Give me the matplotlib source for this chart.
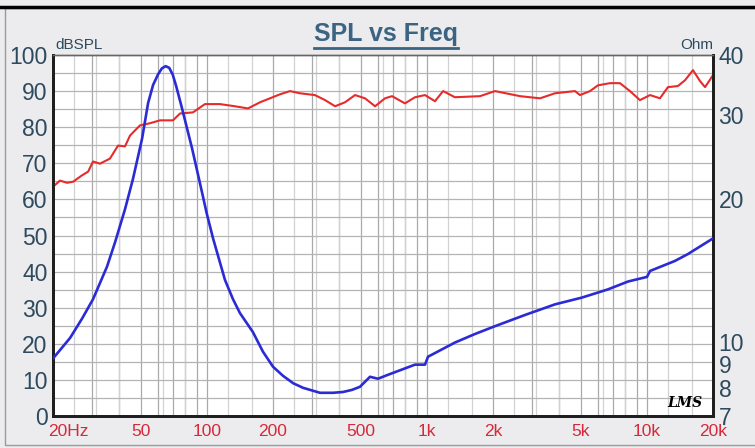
import numpy as np
import matplotlib.pyplot as plt
from matplotlib.lines import Line2D
from matplotlib.patches import Rectangle
from matplotlib.ticker import NullLocator, NullFormatter
import matplotlib.transforms as mtransforms

plt.rcParams['font.family'] = ['Liberation Sans', 'DejaVu Sans']

# SPL (dB)
spl_freq = [20, 21.5, 23.2, 24.7, 27.0, 28.9, 30.4, 32.7, 36.3, 39.5, 42.5, 44.8, 49.7,
            55.2, 61.3, 70.2, 75.6, 86.5, 98.1, 114.8, 134.3, 153.9, 174.6, 193.7, 215,
            239, 265, 310, 345, 383, 425, 472, 524, 582, 646, 695, 796, 884, 982, 1090,
            1186, 1343, 1746, 2042, 2654, 3273, 3826, 4720, 4970, 5520, 6000, 6810, 7550,
            8390, 9310, 10350, 11480, 12480, 13850, 14920, 16220, 17450, 18400, 20000]
spl_db = [63.5, 65.2, 64.6, 64.9, 66.6, 67.7, 70.5, 69.9, 71.3, 74.9, 74.7, 77.7, 80.5,
          81.1, 81.9, 81.9, 83.8, 84.1, 86.4, 86.4, 85.8, 85.2, 86.9, 88.0, 89.1,
          90.0, 89.4, 88.9, 87.5, 85.8, 86.9, 88.9, 88.0, 85.8, 88.0, 88.6, 86.6, 88.3, 88.9, 87.2,
          90.0, 88.3, 88.6, 90.0, 88.6, 88.0, 89.4, 90.0, 88.9, 90.0, 91.6, 92.2, 92.2,
          90.0, 87.5, 88.9, 88.0, 91.1, 91.4, 93.0, 95.8, 92.8, 91.1, 94.4]

# impedance (Ohm)
imp_freq = [20, 23.9, 27.1, 30.4, 32.7, 35.2, 38.3, 42.5, 46.2, 50.8, 54.1, 57.0, 60, 62.5,
            65, 67.5, 70, 72.5, 77.2, 85.7, 93.2, 100, 106.8, 121, 131.6, 141.6, 162, 180,
            200, 222, 247, 274, 327, 375, 416, 457, 497, 552, 600, 666, 884, 982, 1013,
            1343, 1656, 2042, 2794, 3826, 5076, 6660, 8222, 10020, 10350, 13430, 15380, 20000]
imp_ohm = [9.24, 10.2, 11.2, 12.3, 13.3, 14.4, 16.2, 19.0, 22.0, 26.7, 31.7, 34.6, 36.4, 37.5,
           37.9, 37.6, 36.4, 34.5, 30.9, 25.5, 21.5, 18.6, 16.5, 13.5, 12.3, 11.5, 10.5, 9.55,
           8.88, 8.5, 8.2, 8.02, 7.83, 7.83, 7.86, 7.94, 8.06, 8.46, 8.38, 8.54, 8.97, 8.97, 9.32,
           9.98, 10.4, 10.8, 11.4, 12.0, 12.4, 12.9, 13.4, 13.7, 14.1, 14.8, 15.3, 16.5]

x_ticks = [20, 50, 100, 200, 500, 1000, 2000, 5000, 10000, 20000]
x_labels = ['20Hz', '50', '100', '200', '500', '1k', '2k', '5k', '10k', '20k']
db_ticks = [0, 10, 20, 30, 40, 50, 60, 70, 80, 90, 100]
ohm_ticks = [7, 8, 9, 10, 20, 30, 40]

label_col = '#2d4a5e'
tick_red = '#d62839'

fig = plt.figure(figsize=(7.55, 4.48), dpi=100, facecolor='#ececee')
ax = fig.add_axes([53 / 755, 1 - 416 / 448, 660 / 755, 361 / 448])
ax.set_facecolor('white')

ax.set_xscale('log')
ax.set_xlim(20, 20000)
ax.set_ylim(0, 100)

# grid: decade multiples plus third-octave lines
for dec in [10, 100, 1000, 10000]:
    for m in range(1, 10):
        f = dec * m
        if 20 < f < 20000:
            ax.axvline(f, color='#a9a9a9', lw=0.9, zorder=0)
for f in [25, 31.5, 40, 63, 80, 125, 160, 250, 315, 400, 630, 800, 1250, 1600,
          2500, 3150, 4000, 6300, 8000, 12500, 16000]:
    ax.axvline(f, color='#d2d2d2', lw=0.9, zorder=0)
for v in range(5, 100, 5):
    ax.axhline(v, color='#b4b4b4', lw=0.9, zorder=0)

ax.plot(spl_freq, spl_db, color='#e62b2b', lw=1.5, zorder=3)

ax.set_xticks(x_ticks)
ax.set_xticklabels(x_labels)
ax.xaxis.set_minor_locator(NullLocator())
ax.set_yticks(db_ticks)
ax.tick_params(axis='x', length=0, pad=6, labelsize=12.5, labelcolor=tick_red)
ax.tick_params(axis='y', length=0, pad=4, labelsize=16.5, labelcolor=label_col)
first = ax.get_xticklabels()[0]
first.set_horizontalalignment('left')
first.set_transform(first.get_transform() + mtransforms.ScaledTranslation(-5 / 100, 0, fig.dpi_scale_trans))

ax2 = ax.twinx()
ax2.set_yscale('log')
ax2.set_ylim(7, 40)
ax2.plot(imp_freq, imp_ohm, color='#2b2bd6', lw=1.9, zorder=4)
ax2.set_yticks(ohm_ticks)
ax2.set_yticklabels([str(t) for t in ohm_ticks])
ax2.yaxis.set_minor_locator(NullLocator())
ax2.yaxis.set_minor_formatter(NullFormatter())
ax2.tick_params(axis='y', length=0, pad=4, labelsize=16.5, labelcolor=label_col)

for a in (ax, ax2):
    a.spines['left'].set_linewidth(2)
    a.spines['bottom'].set_linewidth(2)
    a.spines['right'].set_linewidth(2)
    a.spines['top'].set_linewidth(1)
    for s in ['left', 'bottom', 'right']:
        a.spines[s].set_color('#1e1e1e')
    a.spines['top'].set_color('#666666')

ax.text(0.003, 1.008, 'dBSPL', transform=ax.transAxes, ha='left', va='bottom',
        fontsize=11, color=label_col)
ax.text(1.0, 1.008, 'Ohm', transform=ax.transAxes, ha='right', va='bottom',
        fontsize=11, color=label_col)
ax.text(0.958, 0.035, 'LMS', transform=ax.transAxes, ha='center', va='center',
        fontsize=10, fontstyle='italic', fontweight='bold', color='black',
        family=['DejaVu Serif'], zorder=5)

title = fig.text(386 / 755, 1 - 34 / 448, 'SPL vs Freq', ha='center', va='center',
                 fontsize=18, fontweight='bold', color='#3b6482')

# outer frame
fig.add_artist(Line2D([0, 1], [1 - 7 / 448, 1 - 7 / 448], color='black', lw=2.5,
                      transform=fig.transFigure))
fig.add_artist(Rectangle((5 / 755, 1 - 445 / 448), 760 / 755, 437 / 448, fill=False,
                         edgecolor='#9a9a9a', lw=1, transform=fig.transFigure))

# underline the title
fig.canvas.draw()
bb = title.get_window_extent().transformed(fig.transFigure.inverted())
fig.add_artist(Line2D([bb.x0, bb.x1], [bb.y0 - 0.004, bb.y0 - 0.004], color='#3b6482',
                      lw=2, transform=fig.transFigure))

fig.savefig('out.png', dpi=100, facecolor=fig.get_facecolor())
